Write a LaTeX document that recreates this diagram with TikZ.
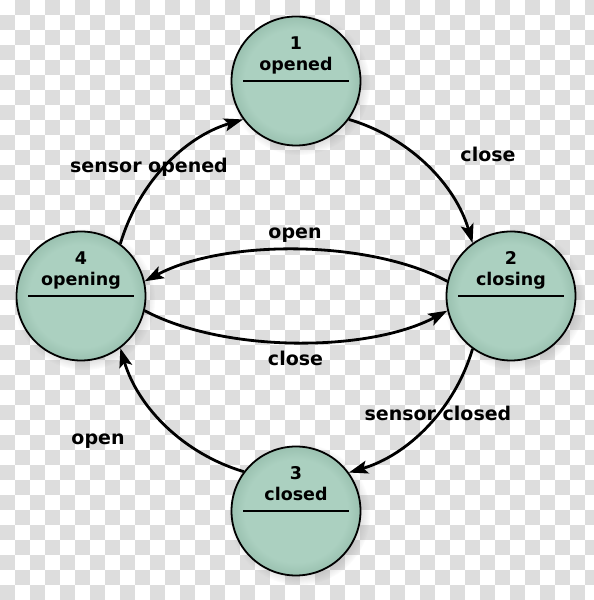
\documentclass[tikz,border=0pt]{standalone}
\usepackage{fontspec}
\setmainfont{DejaVu Sans}
\usetikzlibrary{arrows.meta,shadows}
\definecolor{nodefill}{RGB}{171,208,192}
\definecolor{nodeedge}{RGB}{154,193,176}
\definecolor{checkgray}{RGB}{221,221,221}
\pgfdeclareradialshading{nodeshade}{\pgfpoint{0bp}{0bp}}{color(0bp)=(nodefill); color(20bp)=(nodefill); color(25bp)=(nodeedge); color(50bp)=(nodeedge)}
\begin{document}
\begin{tikzpicture}[x=1pt,y=1pt,
  state/.style={circle, draw=black, line width=1.8pt, minimum size=129pt, inner sep=0pt,
    shade, shading=nodeshade,
    circular drop shadow={shadow xshift=3pt,shadow yshift=-3pt,opacity=0.25}},
  numtxt/.style={anchor=base, inner sep=0pt, font=\fontsize{17.5}{20}\selectfont\bfseries},
  lbl/.style={anchor=base, inner sep=0pt, font=\fontsize{19}{22}\selectfont\bfseries},
  trans/.style={line width=2.8pt, -{Stealth[length=19pt,width=13pt,inset=4pt]}},
  bar/.style={line width=1.4pt}]
\useasboundingbox (0,0) rectangle (594,600);
% transparent-background checkerboard
\begin{scope}
\clip (0,0) rectangle (594,600);
\fill[white] (0,0) rectangle (594,600);
\foreach \r in {0,...,39}{
  \foreach \c in {0,...,39}{
    \pgfmathtruncatemacro\m{mod(\r+\c,2)}
    \ifnum\m=1 \fill[checkgray] (\c*15,600-\r*15) rectangle ++(15,-15); \fi
  }
}
\end{scope}
% states
\node[state] (n1) at (296,519) {};
\node[state] (n2) at (511,304) {};
\node[state] (n3) at (296,89) {};
\node[state] (n4) at (81,304) {};
\foreach \n/\k/\t in {n1/1/opened, n2/2/closing, n3/3/closed, n4/4/opening}{
  \node[numtxt] (\n num) at ([yshift=31.5pt]\n.center) {\k};
  \node[numtxt] (\n name) at ([yshift=10pt]\n.center) {\t};
  \draw[bar] ([xshift=-53pt]\n.center) -- ([xshift=53pt]\n.center);
}
% transitions
\draw[trans] (n1.-36.4) to[out=-16.5,in=106.5,looseness=0.91] (n2.126.4);
\draw[trans] (n4.53.6) to[out=73.5,in=-163.5,looseness=0.91] (n1.216.4);
\draw[trans] (n2.-126.4) to[out=-106.5,in=16.5,looseness=0.91] (n3.36.4);
\draw[trans] (n3.143.6) to[out=163.5,in=-73.5,looseness=0.91] (n4.-53.6);
\draw[trans] (n2.167) to[out=152,in=28,looseness=0.76] (n4.13);
\draw[trans] (n4.-13) to[out=-28,in=-152,looseness=0.76] (n2.-167);
% labels
\node[lbl] (l12) at (488,438) {close};
\node[lbl] (l41) at (149,427.3) {sensor opened};
\node[lbl] (l24) at (295,361.7) {open};
\node[lbl] (l42) at (295.5,234) {close};
\node[lbl] (l23) at (438,179.3) {sensor closed};
\node[lbl] (l34) at (98,155) {open};
\end{tikzpicture}
\end{document}
